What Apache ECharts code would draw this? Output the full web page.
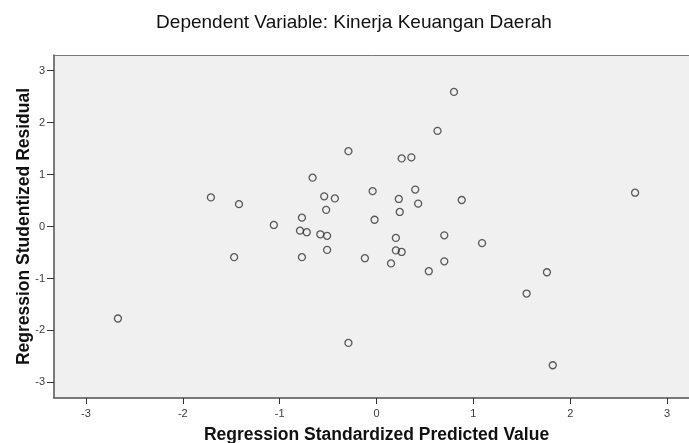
<!DOCTYPE html>
<html>
<head>
<meta charset="utf-8">
<script src="https://cdn.jsdelivr.net/npm/echarts@6/dist/echarts.min.js"></script>
<style>
  html, body { margin: 0; padding: 0; background: #fff; }
  #scatter { width: 689px; height: 443px; }
</style>
</head>
<body>
<div id="scatter"></div>
<script>
// standardized predicted value (x) and studentized residual (y)
var predicted = [
  -2.67, -1.71, -1.47, -1.42, -1.06, -0.79, -0.77, -0.77, -0.72, -0.66,
  -0.58, -0.54, -0.52, -0.51, -0.51, -0.43, -0.29, -0.29, -0.12, -0.04,
  -0.02, 0.15, 0.20, 0.20, 0.23, 0.24, 0.26, 0.26, 0.36, 0.40,
  0.43, 0.54, 0.63, 0.70, 0.70, 0.80, 0.88, 1.09, 1.55, 1.76,
  1.82, 2.67
];
var residual = [
  -1.77, 0.56, -0.59, 0.43, 0.03, -0.08, 0.17, -0.59, -0.11, 0.94,
  -0.15, 0.58, 0.32, -0.18, -0.45, 0.54, 1.45, -2.24, -0.61, 0.68,
  0.13, -0.71, -0.22, -0.46, 0.53, 0.28, 1.31, -0.49, 1.33, 0.71,
  0.44, -0.86, 1.84, -0.17, -0.67, 2.59, 0.51, -0.32, -1.29, -0.88,
  -2.67, 0.65
];
var tickValues = [-3, -2, -1, 0, 1, 2, 3];

var points = predicted.map(function (x, i) { return [x, residual[i]]; });

var fontFamily = 'Liberation Sans, Arial, sans-serif';
var axisFont = { fontFamily: fontFamily, fontSize: 11, color: '#3a3a3a' };
var nameFont = { fontFamily: fontFamily, fontSize: 17.5, fontWeight: 'bold', color: '#111' };

var options = {
  animation: false,
  title: {
    text: 'Dependent Variable: Kinerja Keuangan Daerah',
    left: 354,
    top: 13,
    padding: 0,
    textAlign: 'center',
    textStyle: { fontFamily: fontFamily, fontSize: 19, fontWeight: 'normal', color: '#111' }
  },
  grid: {
    left: 54,
    width: 645,
    top: 55,
    bottom: 45,
    outerBoundsMode: 'none',
    show: true,
    backgroundColor: '#f0f0f0',
    borderWidth: 0
  },
  xAxis: [{
    type: 'value',
    min: -3.33,
    max: 3.33,
    name: 'Regression Standardized Predicted Value',
    nameLocation: 'middle',
    nameGap: 28,
    nameMoveOverlap: false,
    nameTextStyle: nameFont,
    axisLine: { onZero: false, lineStyle: { color: '#505050', width: 1.5 } },
    axisTick: { show: true, length: 6, customValues: tickValues, lineStyle: { color: '#333' } },
    axisLabel: Object.assign({ margin: 10, customValues: tickValues }, axisFont),
    splitLine: { show: false }
  }, {
    type: 'value',
    position: 'top',
    min: -3.33,
    max: 3.33,
    axisLine: { show: true, onZero: false, lineStyle: { color: '#777', width: 1 } },
    axisTick: { show: false },
    axisLabel: { show: false },
    splitLine: { show: false }
  }],
  yAxis: {
    type: 'value',
    min: -3.3,
    max: 3.3,
    name: 'Regression Studentized Residual',
    nameLocation: 'middle',
    nameGap: 21,
    nameMoveOverlap: false,
    nameTextStyle: nameFont,
    axisLine: { show: true, onZero: false, lineStyle: { color: '#505050', width: 1.5 } },
    axisTick: { show: true, length: 7, customValues: tickValues, lineStyle: { color: '#333' } },
    axisLabel: Object.assign({ margin: 9, customValues: tickValues }, axisFont),
    splitLine: { show: false }
  },
  series: [{
    type: 'scatter',
    data: points,
    symbol: 'circle',
    symbolSize: 7,
    itemStyle: { color: 'rgba(0,0,0,0)', borderColor: '#333', borderWidth: 1.3 },
    emphasis: { disabled: true }
  }]
};

var chart = echarts.init(document.getElementById('scatter'));
chart.setOption(options);
</script>
</body>
</html>
